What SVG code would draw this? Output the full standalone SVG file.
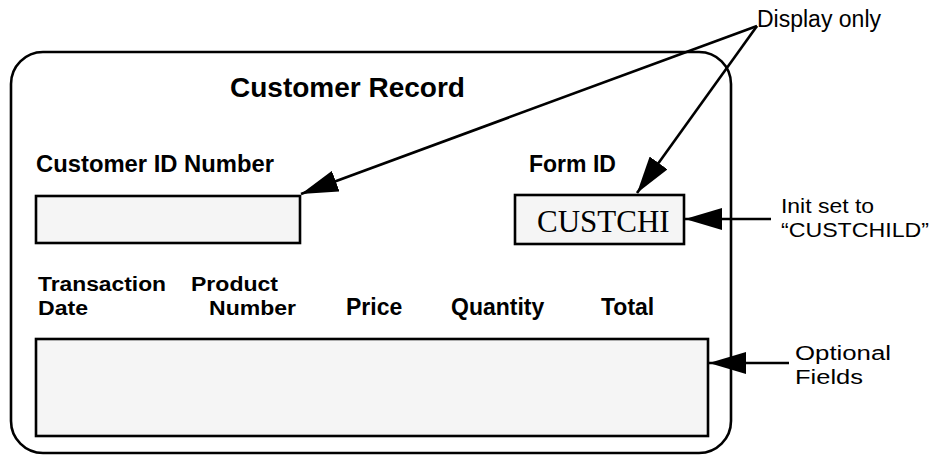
<svg xmlns="http://www.w3.org/2000/svg" width="934" height="455" viewBox="0 0 934 455">
  <style>
    .frame { fill: #ffffff; stroke: #000000; stroke-width: 2.6; }
    .field { fill: #f5f5f5; stroke: #000000; stroke-width: 2.6; }
    .title { font-family: "Liberation Sans", Arial, sans-serif; font-weight: bold; font-size: 28px; fill: #000; }
    .label { font-family: "Liberation Sans", Arial, sans-serif; font-weight: bold; font-size: 23px; fill: #000; }
    .label2 { font-family: "Liberation Sans", Arial, sans-serif; font-weight: bold; font-size: 20px; fill: #000; }
    .note { font-family: "Liberation Sans", Arial, sans-serif; font-size: 23px; fill: #000; }
    .note2 { font-family: "Liberation Sans", Arial, sans-serif; font-size: 20px; fill: #000; }
    .value { font-family: "Liberation Serif", "Times New Roman", serif; font-size: 31px; fill: #000; }
    .conn { stroke: #000000; stroke-width: 2.6; fill: none; marker-end: url(#arrow); }
  </style>
  <defs>
    <marker id="arrow" markerUnits="userSpaceOnUse" viewBox="0 0 37 22" refX="37" refY="11" markerWidth="37" markerHeight="22" orient="auto">
      <path d="M0,0 L37,11 L0,22 z" fill="#000000"/>
    </marker>
  </defs>

  <!-- Record frame -->
  <g id="customer-record">
    <rect class="frame" x="11" y="52" width="720" height="401" rx="32" ry="32"/>
    <text class="title" x="230" y="97">Customer Record</text>
  </g>

  <!-- Customer ID field -->
  <g id="customer-id">
    <text class="label" x="36" y="172" textLength="238" lengthAdjust="spacingAndGlyphs">Customer ID Number</text>
    <rect class="field" x="36" y="196" width="264" height="47"/>
  </g>

  <!-- Form ID field -->
  <g id="form-id">
    <text class="label" x="529" y="172">Form ID</text>
    <rect class="field" x="515" y="195" width="169" height="49"/>
    <text class="value" x="537" y="232">CUSTCHI</text>
  </g>

  <!-- Transaction table -->
  <g id="transactions">
    <text class="label2" x="38" y="291" textLength="128" lengthAdjust="spacingAndGlyphs">Transaction</text>
    <text class="label2" x="38" y="315" textLength="50" lengthAdjust="spacingAndGlyphs">Date</text>
    <text class="label2" x="191" y="291" textLength="87" lengthAdjust="spacingAndGlyphs">Product</text>
    <text class="label2" x="209" y="315" textLength="87" lengthAdjust="spacingAndGlyphs">Number</text>
    <text class="label" x="346" y="315">Price</text>
    <text class="label" x="451" y="315">Quantity</text>
    <text class="label" x="601" y="315">Total</text>
    <rect class="field" x="36" y="339" width="672" height="97"/>
  </g>

  <!-- Annotations -->
  <g id="note-display">
    <text class="note" x="757" y="27">Display only</text>
  </g>
  <g id="note-init">
    <text class="note2" x="781" y="213" textLength="93" lengthAdjust="spacingAndGlyphs">Init set to</text>
    <text class="note2" x="781" y="237" textLength="148" lengthAdjust="spacingAndGlyphs">“CUSTCHILD”</text>
  </g>
  <g id="note-optional">
    <text class="note2" x="795" y="360" textLength="96" lengthAdjust="spacingAndGlyphs">Optional</text>
    <text class="note2" x="795" y="384" textLength="68" lengthAdjust="spacingAndGlyphs">Fields</text>
  </g>

  <!-- Connectors -->
  <g id="connectors">
    <line class="conn" x1="757" y1="26" x2="301" y2="194"/>
    <line class="conn" x1="757" y1="26" x2="637" y2="193"/>
    <line class="conn" x1="771" y1="219" x2="685" y2="219"/>
    <line class="conn" x1="789" y1="363" x2="709" y2="363"/>
  </g>
</svg>
